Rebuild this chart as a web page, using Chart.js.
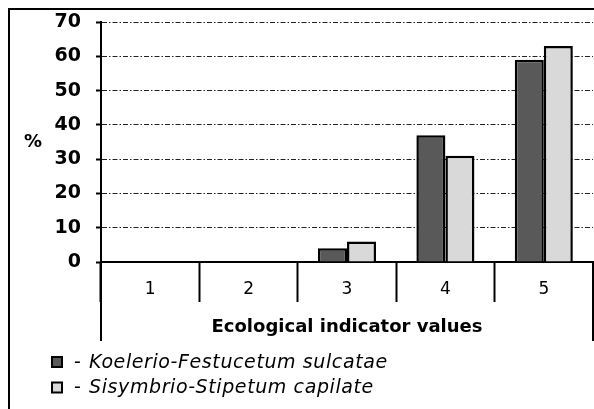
<!DOCTYPE html>
<html>
<head>
<meta charset="utf-8">
<script src="https://cdn.jsdelivr.net/npm/chart.js@4/dist/chart.umd.min.js"></script>
<style>
  html, body { margin: 0; padding: 0; background: #fff; }
</style>
</head>
<body>
<canvas id="indicator_canvas" width="594" height="409"></canvas>
<script>

var category_labels = ['1', '2', '3', '4', '5'];
var koelerio_values = [0, 0, 4, 37, 59];
var sisymbrio_values = [0, 0, 6, 31, 63];
var series_names = ['Koelerio-Festucetum sulcatae', 'Sisymbrio-Stipetum capilate'];
var y_ticks = [0, 10, 20, 30, 40, 50, 60, 70];
var x_title = 'Ecological indicator values';
var unit_label = '%';


var font_family = '"DejaVu Sans", "Liberation Sans", sans-serif';

// frame, axis extensions, % label and the legend are drawn by hand
var frame_plugin = {
  id: 'frame_plugin',
  afterDraw: function(chart)
  {
    var ctx = chart.ctx;
    var area = chart.chartArea;

    ctx.save();
    ctx.strokeStyle = '#000';
    ctx.lineWidth = 2;
    ctx.beginPath();
    ctx.moveTo(9, 409);
    ctx.lineTo(9, 9);
    ctx.lineTo(594, 9);
    ctx.moveTo(area.left, area.bottom);
    ctx.lineTo(area.left, 341);
    ctx.moveTo(area.right, area.bottom);
    ctx.lineTo(area.right, 341);
    ctx.stroke();

    ctx.fillStyle = '#000';
    ctx.font = 'bold 18px ' + font_family;
    ctx.textAlign = 'center';
    ctx.textBaseline = 'middle';
    ctx.fillText(unit_label, 33, 142);

    chart.data.datasets.forEach(function(ds, i)
    {
      var y = 362 + i * 25.5;
      ctx.fillStyle = ds.backgroundColor;
      ctx.fillRect(52, y - 5, 10, 10);
      ctx.lineWidth = 2;
      ctx.strokeStyle = '#000';
      ctx.strokeRect(52, y - 5, 10, 10);

      ctx.fillStyle = '#000';
      ctx.textAlign = 'left';
      ctx.font = '19px ' + font_family;
      ctx.fillText('-', 74, y + 1);
      ctx.font = 'italic 19px ' + font_family;
      ctx.letterSpacing = '0.6px';
      ctx.fillText(ds.label, 89, y + 1);
      ctx.letterSpacing = '0px';
    });
    ctx.restore();
  }
};

populate_chart = function(chart_canvas)
{
  var data = {
    labels: category_labels,
    datasets: [
      {
        label: series_names[0],
        data: koelerio_values,
        backgroundColor: '#595959',
        borderColor: '#000',
        borderWidth: 2.5,
        categoryPercentage: 0.59,
        barPercentage: 1.0
      },
      {
        label: series_names[1],
        data: sisymbrio_values,
        backgroundColor: '#d9d9d9',
        borderColor: '#000',
        borderWidth: 2.5,
        categoryPercentage: 0.59,
        barPercentage: 1.0
      }]
  };

  var options = {
    responsive: false,
    animation: false,
    layout: { padding: { left: 0, top: 22, right: 1, bottom: 0 } },
    plugins: {
      legend: { display: false },
      tooltip: { enabled: false }
    },
    scales: {
      x: {
        offset: true,
        afterFit: function(scale) { scale.height = 147; },
        grid: {
          offset: true,
          drawOnChartArea: false,
          drawTicks: true,
          tickLength: 40,
          tickWidth: 2,
          tickColor: '#000'
        },
        border: { display: true, color: '#000', width: 2 },
        ticks: {
          color: '#000',
          padding: -23,
          font: { family: font_family, size: 17 }
        },
        title: {
          display: true,
          text: x_title,
          color: '#000',
          font: { family: font_family, size: 18, weight: 'bold' },
          padding: { top: 0, bottom: 71 }
        }
      },
      y: {
        min: y_ticks[0],
        max: y_ticks[y_ticks.length - 1],
        afterFit: function(scale)
        {
          scale.width = 101;
          scale.paddingTop = 0;
          scale.paddingBottom = 0;
        },
        ticks: {
          stepSize: 10,
          color: '#000',
          padding: 15,
          font: { family: font_family, size: 19, weight: 'bold' }
        },
        grid: {
          color: '#222',
          lineWidth: 1,
          drawTicks: true,
          tickLength: 5,
          tickWidth: 2,
          tickColor: '#000'
        },
        border: { display: true, color: '#000', width: 2, dash: [5, 2, 1.5, 2] }
      }
    }
  };

  new Chart(chart_canvas, {
    type: 'bar',
    data: data,
    options: options,
    plugins: [frame_plugin]
  });
};

populate_chart(document.getElementById('indicator_canvas').getContext('2d'));

</script>
</body>
</html>
